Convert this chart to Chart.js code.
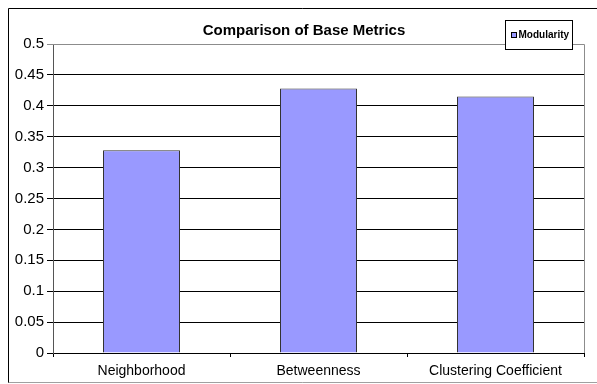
<!DOCTYPE html>
<html>
<head>
<meta charset="utf-8">
<script src="https://cdn.jsdelivr.net/npm/chart.js@4.4.1/dist/chart.umd.min.js"></script>
<style>
  html, body { margin: 0; padding: 0; background: #fff; }
  #wrap { width: 597px; height: 384px; }
</style>
</head>
<body>
<div id="wrap"><canvas id="chartMetrics" width="597" height="384"></canvas></div>
<script>
const categories = ['Neighborhood', 'Betweenness', 'Clustering Coefficient'];
const modularity = [0.328, 0.428, 0.415];
const seriesName = 'Modularity';
const chartTitle = 'Comparison of Base Metrics';

const FONT = "'Liberation Sans', Arial, sans-serif";

// outer frame, title and the boxed legend
const decorPlugin = {
    id: 'decor',
    beforeDraw(chart) {
        const ctx = chart.ctx;
        ctx.save();
        ctx.fillStyle = '#ffffff';
        ctx.fillRect(0, 0, chart.width, chart.height);
        ctx.restore();
    },
    afterDraw(chart) {
        const ctx = chart.ctx;
        const area = chart.chartArea;
        ctx.save();
        // plot area frame (top + right in grey)
        ctx.strokeStyle = '#8c8c8c';
        ctx.lineWidth = 1;
        ctx.beginPath();
        ctx.moveTo(area.left, area.top + 0.5);
        ctx.lineTo(area.right + 0.5, area.top + 0.5);
        ctx.lineTo(area.right + 0.5, area.bottom);
        ctx.stroke();

        // outer frame
        ctx.strokeStyle = '#000000';
        ctx.beginPath();
        ctx.moveTo(8.5, 383);
        ctx.lineTo(8.5, 8.5);
        ctx.lineTo(597, 8.5);
        ctx.stroke();
        ctx.strokeStyle = '#a0a0a0';
        ctx.beginPath();
        ctx.moveTo(8.5, 382.5);
        ctx.lineTo(597, 382.5);
        ctx.stroke();

        // title
        ctx.fillStyle = '#000000';
        ctx.font = 'bold 15px ' + FONT;
        ctx.textAlign = 'center';
        ctx.textBaseline = 'middle';
        ctx.fillText(chartTitle, 304, 31);

        // legend
        ctx.fillStyle = '#ffffff';
        ctx.fillRect(505, 20, 68, 30);
        ctx.strokeStyle = '#000000';
        ctx.strokeRect(505.5, 20.5, 67, 29);
        ctx.fillStyle = '#9999ff';
        ctx.fillRect(511, 32, 6, 6);
        ctx.strokeStyle = '#000000';
        ctx.strokeRect(511.5, 32.5, 5, 5);
        ctx.fillStyle = '#000000';
        ctx.font = 'bold 10px ' + FONT;
        ctx.textAlign = 'left';
        ctx.fillText(seriesName, 518.5, 35.5);
        ctx.restore();
    }
};

new Chart(document.getElementById('chartMetrics').getContext('2d'), {
    type: 'bar',
    data: {
        labels: categories,
        datasets: [{
            label: seriesName,
            data: modularity,
            backgroundColor: '#9999ff',
            borderColor: '#333333',
            borderWidth: 1,
            categoryPercentage: 1,
            barPercentage: 0.435
        }]
    },
    options: {
        responsive: false,
        animation: false,
        layout: { padding: { top: 44, left: 8, right: 13, bottom: 0 } },
        plugins: {
            legend: { display: false },
            title: { display: false },
            tooltip: { enabled: false }
        },
        scales: {
            x: {
                afterFit: (scale) => { scale.height = 31; },
                grid: {
                    offset: true,
                    drawOnChartArea: false,
                    drawTicks: true,
                    tickLength: 4,
                    color: '#000000'
                },
                border: { color: '#000000', width: 1 },
                ticks: {
                    color: '#000000',
                    font: { family: FONT, size: 14 },
                    padding: 6
                }
            },
            y: {
                min: 0,
                max: 0.5,
                afterFit: (scale) => { scale.width = 45; },
                grid: {
                    color: (c) => (c.tick && c.tick.value >= 0.5 ? '#8c8c8c' : '#000000'),
                    tickLength: 6,
                    lineWidth: 1
                },
                border: { color: '#555555', width: 1 },
                ticks: {
                    stepSize: 0.05,
                    color: '#000000',
                    font: { family: FONT, size: 15 },
                    padding: 3,
                    callback: (v) => String(Math.round(v * 100) / 100)
                }
            }
        }
    },
    plugins: [decorPlugin]
});
</script>
</body>
</html>
